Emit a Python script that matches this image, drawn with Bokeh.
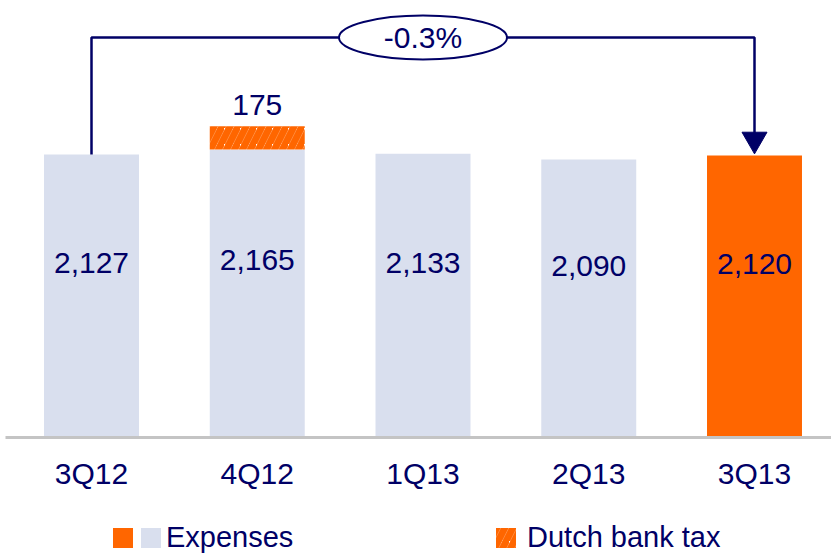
from bokeh.plotting import figure
from bokeh.models import ColumnDataSource, Range1d, Legend, LegendItem
from bokeh.core.properties import value
from bokeh.embed import file_html
from bokeh.resources import INLINE

# ---- data ----
quarters = ["3Q12", "4Q12", "1Q13", "2Q13", "3Q13"]
expenses = [2127, 2165, 2133, 2090, 2120]
expense_labels = ["2,127", "2,165", "2,133", "2,090", "2,120"]
tax_quarter = "4Q12"
tax_value = 175
tax_label = "175"
change_label = "-0.3%"
series_names = ["Expenses", "Dutch bank tax"]

# ---- style ----
NAVY = "#000066"
LIGHT = "#d9dfee"
ORANGE = "#ff6600"
AXIS = "#c4c4c4"
FONT = "Liberation Sans"
FS = "30px"

W, H = 831, 554
BASE_PX = 437            # baseline position from top
PPU = 283 / 2127.0       # pixels per unit
XPX = 165.75             # pixels per category
X0 = 91                  # first category centre

xs = list(range(len(quarters)))
colors = [LIGHT] * (len(quarters) - 1) + [ORANGE]
src = ColumnDataSource(dict(
    x=xs, top=expenses, color=colors, label=expense_labels,
    ly=[v * 0.615 for v in expenses], zero=[0] * len(quarters), cat=quarters,
))

p = figure(width=W, height=H, output_backend="svg", toolbar_location=None,
           x_range=Range1d(-X0 / XPX, (W - X0) / XPX),
           y_range=Range1d(-(H - BASE_PX) / PPU, BASE_PX / PPU),
           x_axis_location=None, y_axis_location=None,
           min_border=0)
p.outline_line_color = None
p.grid.visible = False
p.background_fill_color = "white"
p.border_fill_color = "white"

BW = 0.573
bars = p.vbar(x="x", top="top", width=BW, fill_color="color", line_color=None, source=src)

ti = quarters.index(tax_quarter)
tax = p.vbar(x=[ti], bottom=[expenses[ti]], top=[expenses[ti] + tax_value], width=BW,
             fill_color="white", line_color=None, hatch_pattern="/",
             hatch_color=ORANGE, hatch_weight=7, hatch_scale=16)

# baseline (category axis line)
p.segment(x0=[-(X0 - 5) / XPX], x1=[(W - X0) / XPX], y0=[0], y1=[0],
          line_color=AXIS, line_width=3)

# category labels
p.text(x="x", y="zero", text="cat", source=src, text_align="center",
       text_baseline="middle", y_offset=36, text_font=value(FONT),
       text_font_size=FS, text_color=NAVY)

# value labels
p.text(x="x", y="ly", text="label", source=src, text_align="center",
       text_baseline="middle", text_font=value(FONT), text_font_size=FS,
       text_color=NAVY)

p.text(x=[ti], y=[expenses[ti] + tax_value], text=[tax_label], text_align="center",
       text_baseline="middle", y_offset=-21, text_font=value(FONT),
       text_font_size=FS, text_color=NAVY)

# bracket with change annotation
y_br = (BASE_PX - 37) / PPU
arrow_y = expenses[-1] + 16.0 / PPU
last = len(quarters) - 1
p.line(x=[0, 0, last, last], y=[expenses[0], y_br, y_br, arrow_y],
       line_color=NAVY, line_width=2.5)
p.scatter(x=[last], y=[arrow_y], marker="inverted_triangle", size=25,
          fill_color=NAVY, line_color=NAVY)
mid = last / 2
p.ellipse(x=[mid], y=[y_br], width=168, height=44, width_units="screen",
          height_units="screen", fill_color="white", line_color=NAVY, line_width=2)
p.text(x=[mid], y=[y_br], text=[change_label], text_align="center",
       text_baseline="middle", text_font=value(FONT), text_font_size=FS,
       text_color=NAVY)

def make_legend(items, loc, standoff):
    lg = Legend(items=items, location=loc, orientation="horizontal",
                background_fill_alpha=0, border_line_color=None,
                padding=0, margin=0, spacing=0, glyph_width=25, glyph_height=25,
                label_standoff=standoff, label_width=0,
                label_text_font=FONT, label_text_font_size="29px",
                label_text_color=NAVY)
    p.add_layout(lg, "center")

make_legend([LegendItem(label="", renderers=[bars], index=last),
             LegendItem(label=series_names[0], renderers=[bars], index=0)],
            (110, 0), 3)
make_legend([LegendItem(label=series_names[1], renderers=[tax])], (493, 0), 9)

open("out.html", "w").write(file_html(p, INLINE))
